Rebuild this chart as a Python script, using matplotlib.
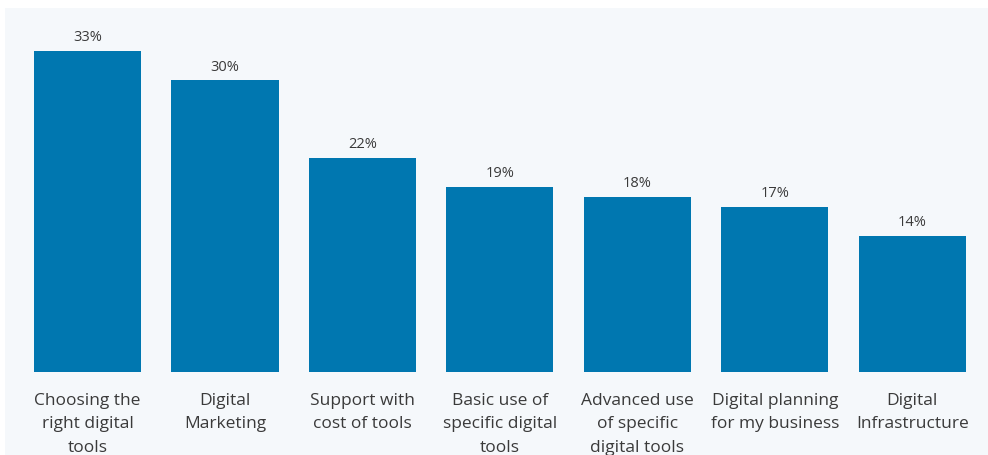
import matplotlib
matplotlib.use('Agg')
import matplotlib.pyplot as plt
from matplotlib.patches import Rectangle

categories = ["Choosing the\nright digital\ntools", "Digital\nMarketing", "Support with\ncost of tools",
              "Basic use of\nspecific digital\ntools", "Advanced use\nof specific\ndigital tools",
              "Digital planning\nfor my business", "Digital\nInfrastructure"]
values = [33, 30, 22, 19, 18, 17, 14]

bar_color = '#0077b0'
text_color = '#3a3a3a'
panel = '#f5f8fb'

plt.rcParams['font.family'] = ['Open Sans', 'DejaVu Sans']

figure = plt.figure(figsize=(9.88, 4.55), dpi=100, facecolor='white')
# light panel behind the chart, leaving a thin white border top and left
figure.patches.append(Rectangle((5 / 988.0, 0), 1, 1 - 8 / 455.0, transform=figure.transFigure,
                                facecolor=panel, edgecolor='none', zorder=-10))

axis = figure.add_axes([18.75 / 988.0, 1 - 372 / 455.0, (981 - 18.75) / 988.0, (372 - 10) / 455.0])
axis.set_facecolor('none')

x = range(len(values))
bars = axis.bar(x, values, width=0.78, color=bar_color)
for b, v in zip(bars, values):
    axis.text(b.get_x() + b.get_width() / 2, v + 0.6, "%d%%" % v, ha='center', va='bottom',
              fontsize=10.5, color=text_color)

axis.set_xlim(-0.5, len(values) - 0.5)
axis.set_ylim(0, 362 / 9.72)
axis.set_xticks(list(x))
axis.set_xticklabels(categories, fontsize=12.5, color=text_color, linespacing=1.62)
axis.tick_params(axis='x', length=0, pad=15)
axis.set_yticks([])
for spine in axis.spines.values():
    spine.set_visible(False)

figure.savefig('out.png', dpi=100, facecolor=figure.get_facecolor())
